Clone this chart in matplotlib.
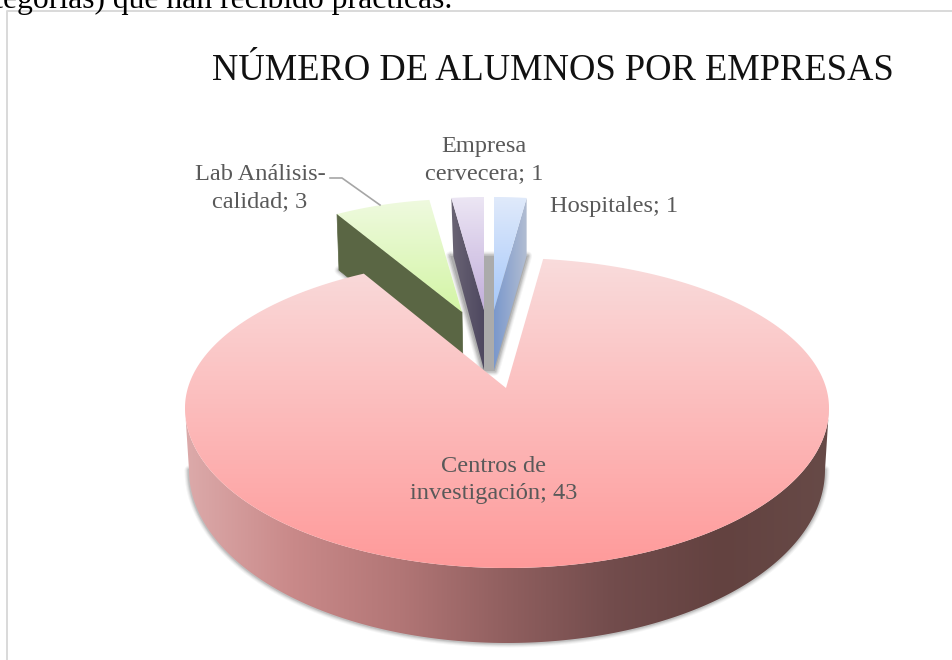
import numpy as np
import matplotlib
matplotlib.use("Agg")
import matplotlib.pyplot as plt
from matplotlib.colors import LinearSegmentedColormap
from matplotlib.patches import Polygon

categories = ["Centros de\ninvestigación", "Lab Análisis-\ncalidad", "Empresa\ncervecera", "Hospitales"]
values = [43, 3, 1, 1]
title = "NÚMERO DE ALUMNOS POR EMPRESAS"
page_text = "categorías) que han recibido prácticas."

first_angle = 7.5
label_xy = [(494, 499), (260, 207), (484, 179), (614, 212)]
face_colors = [("#f9dcdc", "#ff9a9a"), ("#effadf", "#d3f5a5"), ("#ece6f4", "#c2aedb"), ("#e0eafa", "#a6c8fb")]

W, H = 953, 660
SERIF = "Liberation Serif"
LABEL_COLOR = "#595959"


def fill_gradient(ax, pts, colors, horizontal=False, zorder=2):
    pts = np.asarray(pts)
    x0, x1 = pts[:, 0].min(), pts[:, 0].max()
    y0, y1 = pts[:, 1].min(), pts[:, 1].max()
    cmap = LinearSegmentedColormap.from_list("g", colors)
    ramp = np.linspace(0, 1, 256)
    img = ramp[None, :] if horizontal else ramp[:, None]
    im = ax.imshow(img, cmap=cmap, extent=(x0, x1, y1, y0), aspect="auto", zorder=zorder, interpolation="bilinear")
    patch = Polygon(pts, closed=True, transform=ax.transData, fc="none", ec="none")
    ax.add_patch(patch)
    im.set_clip_path(patch)


def soft_edge(ax, pts, zorder, color="#404040", closed=False):
    pts = np.asarray(pts)
    if closed:
        pts = np.vstack([pts, pts[:1]])
    for lw, a in [(9, 0.05), (7, 0.07), (5, 0.10), (3, 0.14)]:
        ax.plot(pts[:, 0], pts[:, 1], color=color, lw=lw * 0.72, alpha=a, zorder=zorder, solid_capstyle="round")


def outline(cx, cy, rx, ry_up, ry_low, t):
    ry = np.where(np.cos(t) > 0, ry_up, ry_low)
    return cx + rx * np.sin(t), cy - ry * np.cos(t)


sweeps = np.array(values) / sum(values) * 360.0
starts = first_angle + np.concatenate([[0], np.cumsum(sweeps)[:-1]])

fig = plt.figure(figsize=(W / 100, H / 100), dpi=100, facecolor="white")
ax = fig.add_axes([0, 0, 1, 1])
ax.axis("off")

# frame of the embedded chart and the clipped line of the page above it
ax.plot([953, 7, 7], [11, 11, 660], color="#d9d9d9", lw=1.4, zorder=1)
ax.text(-34, 8, page_text, family=SERIF, fontsize=22.8, color="black", ha="left", va="baseline", zorder=1)

# big slice, top face outline is found by looking from the apex
apex = np.array([506.0, 388.0])
cx, cy, rx, ry_up, ry_low = 507.0, 408.0, 322.0, 150.0, 160.0
t = np.radians(np.linspace(-180, 180, 2401))
ox, oy = outline(cx, cy, rx, ry_up, ry_low, t)
phi = np.degrees(np.arctan2((ox - apex[0]) / rx, (apex[1] - oy) / ry_up)) % 360
order = np.argsort(phi)
phi, ox, oy = phi[order], ox[order], oy[order]
keep = (phi >= starts[0]) & (phi <= starts[0] + sweeps[0])
red_top = np.vstack([[apex], np.column_stack([ox[keep], oy[keep]])])

# side of the big slice
tl = np.radians(np.linspace(90, 270, 500))
tx, ty = outline(cx, cy, rx, ry_up, ry_low, tl)
bx, by = outline(507.0, 470.0, 318.0, 173.0, 173.0, tl)
red_side = np.vstack([np.column_stack([tx, ty]), np.column_stack([bx, by])[::-1]])
soft_edge(ax, np.column_stack([bx, by]), 2)
fill_gradient(ax, red_side, ["#dcaaaa", "#c98989", "#b27676", "#905f5f", "#724c4c", "#634240", "#674a47"], horizontal=True, zorder=3)
fill_gradient(ax, red_top, face_colors[0], zorder=8)

# small slices, pulled out towards the back
apexes = [None, (462.0, 312.0), (484.0, 310.0), (494.0, 310.0)]
small_rx, small_ry, depth = 250.0, 113.0, 58.0


def small_face(i):
    a = np.radians(np.linspace(starts[i], starts[i] + sweeps[i], 40))
    ax_, ay_ = apexes[i]
    return np.column_stack([ax_ + small_rx * np.sin(a), ay_ - small_ry * np.cos(a)])


green = small_face(1)
purple = small_face(2)
blue = small_face(3)
gc, pc, bc = np.array(apexes[1]), np.array(apexes[2]), np.array(apexes[3])

# shadow behind the two thin slices
shadow = np.array([[purple[0, 0] - 1, purple[0, 1] + depth], pc + [-1, depth + 3], bc + [1, depth + 3], [blue[-1, 0] + 1, blue[-1, 1] + depth]])
soft_edge(ax, shadow, 2, closed=True)
ax.add_patch(Polygon(shadow, closed=True, fc="#ababab", ec="none", zorder=2))

green_side = np.array([green[0], gc, gc + [1, depth], green[0] + [2, depth - 2]])
soft_edge(ax, green_side[2:], 2)
ax.add_patch(Polygon(green_side, closed=True, fc="#5a6644", ec="#5a6644", lw=0.5, zorder=4))
fill_gradient(ax, np.vstack([[gc], green]), face_colors[1], zorder=5)

purple_side = np.array([purple[0], pc, pc + [0, depth + 2], purple[0] + [2, depth]])
fill_gradient(ax, purple_side, ["#6a6474", "#4e4860"], horizontal=True, zorder=4)
fill_gradient(ax, np.vstack([[pc], purple]), face_colors[2], zorder=5)

blue_side = np.array([blue[-1], bc, bc + [0, depth + 2], blue[-1] + [0, depth]])
fill_gradient(ax, blue_side, ["#7a98cc", "#b2bdd2"], horizontal=True, zorder=4)
fill_gradient(ax, np.vstack([[bc], blue]), face_colors[3], zorder=5)

# leader line of the green slice
ax.plot([330, 342, 380], [178, 178, 205], color="#a6a6a6", lw=1.2, zorder=6)

for name, val, (lx, ly) in zip(categories, values, label_xy):
    ax.text(lx, ly, f"{name}; {val}", family=SERIF, fontsize=17.6, color=LABEL_COLOR,
            ha="center", va="baseline", linespacing=1.37, zorder=9)

ax.text(553, 80, title, family=SERIF, fontsize=26.3, color="#111111", ha="center", va="baseline", zorder=9)

ax.set_xlim(0, W)
ax.set_ylim(H, 0)
fig.savefig("out.png", dpi=100)
